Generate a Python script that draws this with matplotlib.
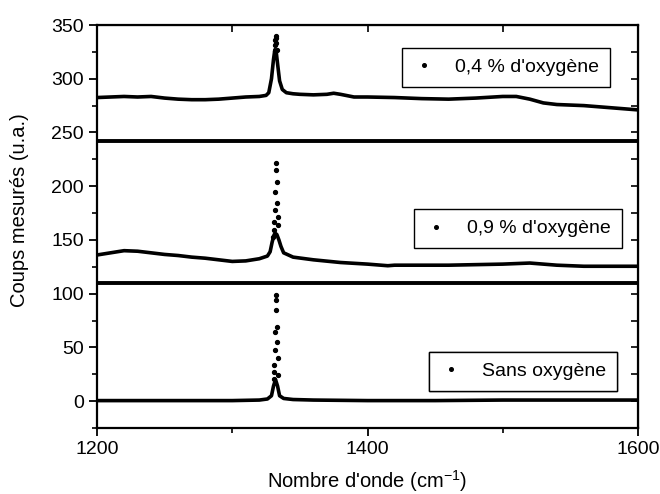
import numpy as np
import matplotlib.pyplot as plt
from matplotlib.lines import Line2D
from matplotlib.ticker import MultipleLocator

plt.rcParams['font.family'] = ['Liberation Sans', 'DejaVu Sans']
plt.rcParams['mathtext.default'] = 'regular'

# 0,4 % d'oxygène : baseline + peak flanks (solid), upper peak (dots)
x_04 = [1200, 1210, 1220, 1230, 1240, 1250, 1260, 1270, 1280, 1290, 1300, 1310, 1320,
        1325, 1327, 1329, 1330.5, 1331.5, 1332.5, 1333.5, 1335, 1337, 1340, 1345, 1350,
        1360, 1370, 1375, 1380, 1390, 1400, 1420, 1440, 1460, 1480, 1500, 1510, 1520,
        1530, 1540, 1560, 1580, 1600]
y_04 = [282.5, 283, 283.5, 283, 283.5, 282, 281, 280.5, 280.5, 281, 282, 283, 283.5,
        284.5, 287, 300, 318, 327, 325, 314, 298, 290, 287, 286, 285.5,
        285, 285.5, 286.5, 285.5, 283, 283, 282.5, 281.5, 281, 282, 283.5, 283.5, 281,
        277.5, 276, 275, 273, 271]
xp_04 = [1331.3, 1331.6, 1331.9, 1332.1, 1332.4, 1332.7, 1333.0]
yp_04 = [326, 331, 336, 340, 338, 333, 327]

# 0,9 % d'oxygène
x_09 = [1200, 1210, 1220, 1230, 1240, 1250, 1260, 1270, 1280, 1290, 1300, 1310, 1320,
        1326, 1328, 1329.5, 1331, 1332, 1333, 1334.5, 1336, 1338, 1345, 1360, 1380,
        1400, 1415, 1420, 1440, 1460, 1480, 1500, 1520, 1540, 1560, 1580, 1600]
y_09 = [136, 138, 140, 139.5, 138, 136.5, 135.5, 134, 133, 131.5, 130, 130.5, 132.5,
        135, 139, 148, 155, 156, 155, 150, 144, 138, 134, 131.5, 129,
        127.5, 126, 126.5, 126.5, 126.5, 127, 127.5, 128.5, 126.5, 125.5, 125.5, 125.5]
xp_09 = [1330.2, 1330.6, 1331.0, 1331.4, 1331.8, 1332.2, 1332.5, 1332.9, 1333.3, 1333.7, 1334.1]
yp_09 = [153, 159, 167, 178, 195, 215, 221.5, 204, 184, 171.5, 164]

# Sans oxygène
x_0 = [1200, 1250, 1300, 1320, 1326, 1329, 1330.5, 1332, 1333.5, 1335, 1338, 1345,
       1360, 1400, 1450, 1500, 1550, 1600]
y_0 = [0.5, 0.5, 0.5, 1, 2, 5, 14, 20, 14, 5, 2.5, 1.5,
       1, 0.5, 0.5, 1, 1, 1]
xp_0 = [1330.6, 1330.9, 1331.2, 1331.5, 1331.8, 1332.1, 1332.4, 1332.7, 1333.0, 1333.3, 1333.6, 1333.9]
yp_0 = [21, 27, 33.5, 47.5, 64.5, 84.7, 98.7, 94, 69, 55, 40, 24]

separators = [242, 110]
labels = ["0,4 % d'oxygène", "0,9 % d'oxygène", "Sans oxygène"]

fig = plt.figure(figsize=(6.6, 4.94), dpi=100)
ax = fig.add_axes([97 / 660, 66 / 494, 541 / 660, 403 / 494])

for xs, ys, xp, yp in [(x_04, y_04, xp_04, yp_04), (x_09, y_09, xp_09, yp_09), (x_0, y_0, xp_0, yp_0)]:
    ax.plot(xs, ys, color='k', lw=2.6, solid_joinstyle='round')
    ax.plot(xp, yp, linestyle='none', marker='o', ms=2.8, color='k')

for s in separators:
    ax.axhline(s, color='k', lw=2.8)

ax.set_xlim(1200, 1600)
ax.set_ylim(-25, 350)
ax.xaxis.set_major_locator(MultipleLocator(200))
ax.xaxis.set_minor_locator(MultipleLocator(100))
ax.yaxis.set_major_locator(MultipleLocator(50))
ax.yaxis.set_minor_locator(MultipleLocator(25))
ax.tick_params(which='major', direction='out', length=6, width=1.3, labelsize=14)
ax.tick_params(which='minor', direction='out', length=3.5, width=1.2)
ax.tick_params(top=False, right=False, which='both')
for sp in ax.spines.values():
    sp.set_linewidth(1.6)

top = ax.secondary_xaxis('top')
top.xaxis.set_major_locator(MultipleLocator(100))
top.tick_params(direction='in', length=5, width=1.2, labeltop=False)
right = ax.secondary_yaxis('right')
right.yaxis.set_major_locator(MultipleLocator(25))
right.tick_params(direction='in', length=5, width=1.2, labelright=False)

ax.set_xlabel("Nombre d'onde (cm$^{-1}$)", fontsize=14.5, labelpad=7)
ax.set_ylabel("Coups mesurés (u.a.)", fontsize=14.5)
ax.yaxis.set_label_coords(-0.125, 0.54)

anchors = [(0.948, 0.943), (0.970, 0.543), (0.961, 0.189)]
for lab, anc in zip(labels, anchors):
    h = Line2D([], [], linestyle='none', marker='o', ms=2.6, color='k')
    leg = ax.legend([h], [lab], loc='upper right', bbox_to_anchor=anc, fontsize=14,
                    frameon=True, fancybox=False, edgecolor='k', framealpha=1,
                    borderaxespad=0, borderpad=0.55, handlelength=1.2, handletextpad=1.0)
    leg.get_frame().set_linewidth(1.0)
    ax.add_artist(leg)

fig.savefig('out.png', dpi=100)
